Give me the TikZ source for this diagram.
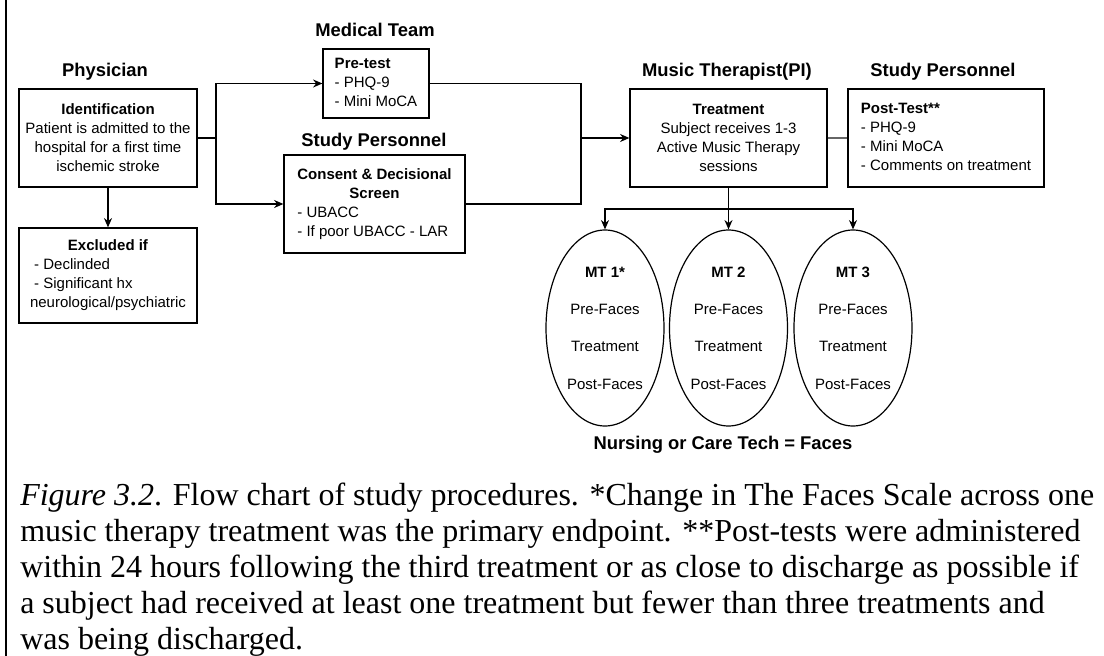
\documentclass[tikz,border=0pt]{standalone}
\usepackage{fontspec}
\setmainfont{Liberation Serif}
\setsansfont{Liberation Sans}
\usetikzlibrary{shapes.geometric,arrows.meta}

\begin{document}
\begin{tikzpicture}[x=0.75pt,y=-0.75pt,
    stepbox/.style={draw, line width=0.9pt, inner sep=0pt, align=center,
      font=\sffamily\fontsize{11.25}{14.25}\selectfont},
    role/.style={font=\sffamily\bfseries\fontsize{13.8}{16}\selectfont},
    mtoval/.style={ellipse, draw, line width=0.9pt, minimum width=88.5pt,
      minimum height=147pt, inner sep=0pt, align=center,
      font=\sffamily\fontsize{11.25}{28}\selectfont},
    link/.style={line width=0.9pt},
    arr/.style={link, -{Stealth[length=7pt,width=6pt]}}]
        \useasboundingbox (0,0) rectangle (1104,656);
        % Left rule
        \draw[line width=2pt] (6,0) -- (6,656);
        % Roles
        \node[role] (rphys) at (105,72) {Physician};
        \node[role] (rmed) at (375,30) {Medical Team};
        \node[role] (rstudy) at (374,142) {Study Personnel};
        \node[role] (rmt) at (727,72) {Music Therapist(PI)};
        \node[role] (rpost) at (943,72) {Study Personnel};
        \node[role] (rnurse) at (723,445) {Nursing or Care Tech = Faces};
        % Boxes
        \node[stepbox, minimum width=133.5pt, minimum height=73.5pt] (phys) at (108,138)
            {\textbf{Identification}\\Patient is admitted to the\\hospital for a first time\\ischemic stroke};
        \node[stepbox, minimum width=133.5pt, minimum height=71.25pt] (excl) at (108,275.5)
            {\begin{tabular}{@{}l@{}}\multicolumn{1}{@{}c@{}}{\textbf{Excluded if}}\\
             \ - Declinded\\\ - Significant hx\\neurological/psychiatric\end{tabular}};
        \node[stepbox, minimum width=79.5pt, minimum height=51.75pt] (pre) at (376,83.5)
            {\begin{tabular}{@{}l@{}}\textbf{Pre-test}\\- PHQ-9\\- Mini MoCA\end{tabular}};
        \node[stepbox, minimum width=135.75pt, minimum height=73.5pt] (cons) at (374.5,204)
            {\begin{tabular}{@{}l@{}}\multicolumn{1}{@{}c@{}}{\textbf{Consent \& Decisional}}\\
             \multicolumn{1}{@{}c@{}}{\textbf{Screen}}\\- UBACC\\- If poor UBACC - LAR\end{tabular}};
        \node[stepbox, minimum width=147.75pt, minimum height=73.5pt] (treat) at (728.5,138)
            {\textbf{Treatment}\\Subject receives 1-3\\Active Music Therapy\\sessions};
        \node[stepbox, minimum width=147pt, minimum height=73.5pt] (post) at (946,138)
            {\begin{tabular}{@{}l@{}}\textbf{Post-Test**}\\- PHQ-9\\- Mini MoCA\\- Comments on treatment\end{tabular}};
        % Music therapy sessions
        \node[mtoval] (mt1) at (605,328) {\textbf{MT 1*}\\Pre-Faces\\Treatment\\Post-Faces};
        \node[mtoval] (mt2) at (728.5,328) {\textbf{MT 2}\\Pre-Faces\\Treatment\\Post-Faces};
        \node[mtoval] (mt3) at (853,328) {\textbf{MT 3}\\Pre-Faces\\Treatment\\Post-Faces};
        % Connectors
        \coordinate (split) at (216,138);
        \coordinate (merge) at (581,138);
        \coordinate (fork) at (728.5,209);
        \draw[link] (phys.east) -- (split);
        \draw[arr] (split) |- (pre.west);
        \draw[arr] (split) |- (cons.west);
        \draw[arr] (phys.south) -- (excl.north);
        \draw[link] (pre.east) -| (merge);
        \draw[link] (cons.east) -| (merge);
        \draw[arr] (merge) -- (treat.west);
        \draw[link, black!60] (treat.east) -- (post.west);
        \draw[link] (treat.south) -- (fork);
        \draw[arr] (fork) -| (mt1.north);
        \draw[arr] (fork) -- (mt2.north);
        \draw[arr] (fork) -| (mt3.north);
        % Caption
        \foreach \txt [count=\i] in {{\textit{Figure 3.2}. Flow chart of study procedures. *Change in The Faces Scale across one},
            {music therapy treatment was the primary endpoint. **Post-tests were administered},
            {within 24 hours following the third treatment or as close to discharge as possible if},
            {a subject had received at least one treatment but fewer than three treatments and},
            {was being discharged.}}
            \node[anchor=base west, inner sep=0pt, font=\fontsize{24}{27}\selectfont] (cap\i) at (20,{505+36*(\i-1)}) {\txt};
\end{tikzpicture}
\end{document}
